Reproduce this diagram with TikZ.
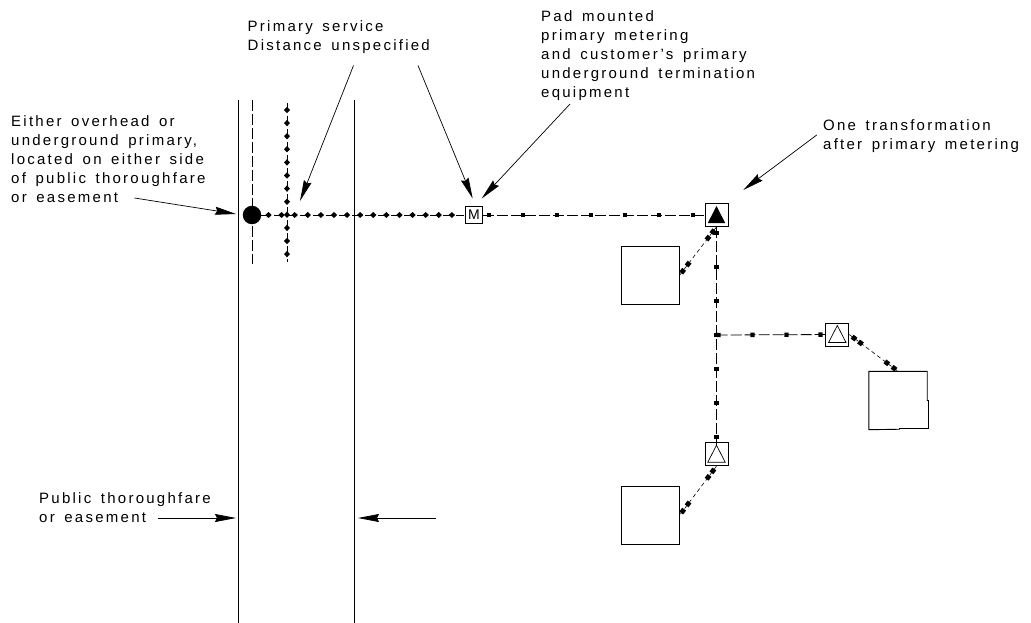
\documentclass[tikz,border=0pt]{standalone}
\usepackage{fontspec}
\setsansfont{Liberation Sans}[LetterSpace=15, WordSpace=1.5]
\usepackage{tikz}
\usetikzlibrary{arrows.meta, positioning, calc, decorations.markings}
\newcommand{\svcmark}{\fill (-2.4pt,-2.4pt) rectangle (2.4pt,2.4pt);}
\tikzset{
  callout/.style  = {font=\fontsize{15}{19}\selectfont\sffamily, align=left, anchor=west, inner sep=0pt},
  leader/.style   = {-{Stealth[length=21pt, width=8pt, inset=2pt]}, line width=0.7pt},
  roadline/.style = {line width=0.9pt},
  bldg/.style     = {draw, line width=0.9pt, minimum size=57.5pt, inner sep=0pt},
  unitbox/.style  = {draw, line width=0.9pt, minimum size=23pt, inner sep=0pt},
  metbox/.style   = {draw, line width=0.9pt, minimum size=17.5pt, inner sep=0pt,
                     font=\fontsize{14}{14}\selectfont\sffamily},
  primline/.style = {line width=0.8pt, dash pattern=on 8pt off 5pt, postaction={decorate},
                     decoration={markings, mark=between positions 7pt and -2pt step 13.1pt with
                       {\fill (-3.2pt,0) -- (0,3pt) -- (3.2pt,0) -- (0,-3pt) -- cycle;}}},
  secline/.style  = {line width=0.8pt, dash pattern=on 11pt off 3pt, postaction={decorate},
                     decoration={markings, mark=between positions #1 and -2pt step 34pt with
                       {\fill (-2.2pt,-2.2pt) rectangle (2.2pt,2.2pt);}}},
  svcline/.style  = {line width=0.6pt, dash pattern=on 4pt off 3pt, postaction={decorate},
                     decoration={markings, mark=at position 6pt with {\svcmark},
                       mark=at position 14pt with {\svcmark},
                       mark=at position -14pt with {\svcmark},
                       mark=at position -5pt with {\svcmark}}},
}
\begin{document}
\begin{tikzpicture}[x=1pt, y=-1pt]
    \useasboundingbox (0,0) rectangle (1031,623);

    % Labels
    \node[callout] (lblprim)  at (11,159)    {Either overhead or\\underground primary,\\located on either side\\of public thoroughfare\\or easement};
    \node[callout] (lblserv)  at (247.5,37.5) {Primary service\\Distance unspecified};
    \node[callout] (lblpad)   at (541,55.5)  {Pad mounted\\primary metering\\and customer's primary\\underground termination\\equipment};
    \node[callout] (lblone)   at (823,136)   {One transformation\\after primary metering};
    \node[callout] (lblroad)  at (39,508)    {Public thoroughfare\\or easement};

    % Equipment
    \node[circle, fill=black, inner sep=0pt, minimum size=18.5pt] (pole) at (252,215) {};
    \node[metbox]  (meter) at (474,215)     {M};
    \node[unitbox] (xfa)   at (716.5,215)   {};
    \node[unitbox] (xfb)   at (837.3,334.5) {};
    \node[unitbox] (xfc)   at (716.5,454.2) {};
    \node[bldg]    (bldga) at (650.4,275.2) {};
    \node[bldg, draw=none] (bldgb) at (898,400.5) {};
    \node[bldg]    (bldgc) at (650.4,515.2) {};
    \draw[line width=0.9pt] (bldgb.north west) -- (bldgb.north east) -- (bldgb.east) -- ++(1.3,0)
      -- ++(0,28) -- ++(-29,0) -- ++(0,0.75) -- (bldgb.south west) -- cycle;

    \fill (xfa.center)+(-8.7,8) -- +(0,-9) -- +(8.7,8) -- cycle;
    \foreach \n in {xfb,xfc}
      \draw[line width=0.7pt] (\n.center)+(-8.7,8) -- +(0,-9) -- +(8.7,8) -- cycle;

    % Road
    \coordinate (roadlt) at (238.5,100);
    \coordinate (roadlb) at (238.5,623);
    \coordinate (roadrt) at (354.5,100);
    \coordinate (roadrb) at (354.5,623);
    \draw[roadline] (roadlt)--(roadlb);
    \draw[roadline] (roadrt)--(roadrb);

    % Primary
    \coordinate (ohtop) at (252,100);
    \coordinate (ohbot) at (252,264);
    \coordinate (ugtop) at (287,103);
    \coordinate (ugbot) at (287,262);
    \coordinate (tee) at (716.5,335);
    \draw[line width=0.8pt, dash pattern=on 11pt off 3pt] (ohtop)--(ohbot);
    \draw[primline] (ugtop)--(ugbot);
    \draw[primline] (pole)--(meter);
    \draw[secline=6pt] (meter)--(xfa);
    \draw[secline=6pt] (xfa)--(xfc);
    \draw[secline=2pt] (tee)--(xfb);
    \draw[line width=0.8pt] (xfc.north)--++(0,3);
    \draw[svcline] (xfa.south)--(bldga.east);
    \draw[svcline] (xfb.east)--(bldgb.north);
    \draw[svcline] (xfc.south)--(bldgc.east);

    % Leaders
    \coordinate (tipprim) at (236,214);
    \coordinate (tipserv) at (300,201);
    \coordinate (tipmeta) at (472.7,198.5);
    \coordinate (tipmetb) at (481.7,198.5);
    \coordinate (tipxf)   at (743.3,190);
    \coordinate (tiproadl) at (236,518);
    \coordinate (tiproadr) at (358,518);
    \coordinate (tailroadr) at (436,518);
    \coordinate (tailprim) at (134.5,198);
    \coordinate (tailroadl) at (158,518);
    \coordinate (tailserv) at (353.5,65.5);
    \coordinate (tailmeta) at (418,65.5);
    \coordinate (tailmetb) at (570,104);
    \coordinate (tailxf)  at (816.7,135);
    \draw[leader] (tailprim)--(tipprim);
    \draw[leader] (tailserv)--(tipserv);
    \draw[leader] (tailmeta)--(tipmeta);
    \draw[leader] (tailmetb)--(tipmetb);
    \draw[leader] (tailxf)--(tipxf);
    \draw[leader] (tailroadl)--(tiproadl);
    \draw[leader] (tailroadr)--(tiproadr);
\end{tikzpicture}
\end{document}
